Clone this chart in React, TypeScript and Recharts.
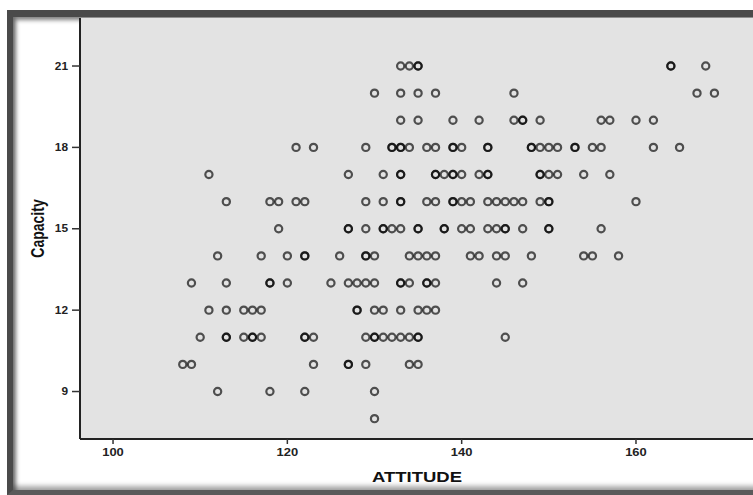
import { ScatterChart, Scatter, XAxis, YAxis, CartesianGrid } from 'recharts';

// ATTITUDE scores per Capacity level (a value listed twice = overlapping cases)
const cap21 = [133, 134, 135, 135, 164, 164, 168];
const cap20 = [130, 133, 135, 137, 146, 167, 169];
const cap19 = [133, 135, 139, 142, 146, 147, 147, 149, 156, 157, 160, 162];
const cap18 = [
  121, 123, 129, 132, 132, 133, 133, 134, 136, 137, 139, 139, 140, 143, 143,
  148, 148, 149, 150, 151, 153, 153, 155, 156, 162, 165,
];
const cap17 = [
  111, 127, 131, 133, 133, 137, 137, 138, 139, 139, 140, 142, 143, 143, 149,
  149, 150, 151, 154, 157,
];
const cap16 = [
  113, 118, 119, 121, 122, 129, 131, 133, 133, 136, 137, 139, 139, 140, 141,
  143, 144, 145, 146, 147, 149, 150, 150, 160,
];
const cap15 = [
  119, 127, 127, 129, 131, 131, 132, 133, 135, 135, 138, 138, 140, 141, 143,
  144, 145, 145, 147, 150, 150, 156,
];
const cap14 = [
  112, 117, 120, 122, 122, 126, 129, 129, 130, 134, 135, 136, 137, 141, 142,
  144, 145, 148, 154, 155, 158,
];
const cap13 = [109, 113, 118, 118, 120, 125, 127, 128, 129, 130, 133, 133, 134, 136, 136, 137, 144, 147];
const cap12 = [111, 113, 115, 116, 117, 128, 128, 130, 131, 133, 135, 136, 137];
const cap11 = [110, 113, 113, 115, 116, 116, 117, 122, 122, 123, 129, 130, 130, 131, 132, 133, 134, 135, 135, 145];
const cap10 = [108, 109, 123, 127, 127, 129, 134, 135];
const cap9 = [112, 118, 122, 130];
const cap8 = [130];

const rows: [number, number[]][] = [
  [21, cap21],
  [20, cap20],
  [19, cap19],
  [18, cap18],
  [17, cap17],
  [16, cap16],
  [15, cap15],
  [14, cap14],
  [13, cap13],
  [12, cap12],
  [11, cap11],
  [10, cap10],
  [9, cap9],
  [8, cap8],
];

const attitudeTicks = [100, 120, 140, 160];
const capacityTicks = [9, 12, 15, 18, 21];

const points = rows.flatMap(([capacity, xs]) =>
  xs.map((attitude) => ({ attitude, capacity }))
);

const FONT = 'Arial, "Liberation Sans", sans-serif';

const Ring = (props: any) => {
  const { cx, cy } = props;
  if (cx == null || cy == null) return null;
  return (
    <circle
      cx={cx}
      cy={cy}
      r={3.6}
      fill="none"
      stroke="#000"
      strokeOpacity={0.66}
      strokeWidth={2.2}
    />
  );
};

const XTick = (props: any) => {
  const { x, y, payload } = props;
  const s = String(payload.value);
  return (
    <text
      x={x}
      y={y}
      dy={10}
      textAnchor="middle"
      fontFamily={FONT}
      fontSize={10}
      fontWeight="bold"
      fill="#222"
      textLength={s.length * 7.2}
      lengthAdjust="spacingAndGlyphs"
    >
      {s}
    </text>
  );
};

const YTick = (props: any) => {
  const { x, y, payload } = props;
  const s = String(payload.value);
  return (
    <text
      x={x}
      y={y}
      dy={3.5}
      textAnchor="end"
      fontFamily={FONT}
      fontSize={10}
      fontWeight="bold"
      fill="#222"
      textLength={s.length * 6.6}
      lengthAdjust="spacingAndGlyphs"
    >
      {s}
    </text>
  );
};

const XTitle = (props: any) => {
  const vb = props.viewBox || { x: 80, y: 439, width: 674 };
  return (
    <text
      x={vb.x + vb.width / 2}
      y={vb.y + 43}
      textAnchor="middle"
      fontFamily={FONT}
      fontSize={15}
      fontWeight="bold"
      fill="#111"
      textLength={90}
      lengthAdjust="spacingAndGlyphs"
    >
      ATTITUDE
    </text>
  );
};

const YTitle = (props: any) => {
  const vb = props.viewBox || { x: 0, y: 18, height: 421 };
  const cx = vb.x + 37;
  const cy = vb.y + vb.height / 2;
  return (
    <text
      transform={`translate(${cx},${cy}) rotate(-90) scale(1,1.3)`}
      textAnchor="middle"
      dy={5}
      fontFamily={FONT}
      fontSize={14}
      fontWeight="bold"
      fill="#111"
    >
      Capacity
    </text>
  );
};

export default function App() {
  return (
    <div
      style={{
        position: 'absolute',
        left: 0,
        top: 0,
        width: 753,
        height: 495,
        overflow: 'hidden',
        background: '#fff',
      }}
    >
      <div
        style={{
          position: 'absolute',
          left: 7,
          top: 10,
          width: 820,
          height: 485,
          boxSizing: 'border-box',
          borderTop: '7px solid #4a4a4a',
          borderLeft: '6px solid #4a4a4a',
          borderBottom: '5px solid #5a5a5a',
          boxShadow:
            'inset 3px 3px 4px rgba(0,0,0,0.5), inset 0 -4px 5px rgba(0,0,0,0.35)',
        }}
      />
      <div style={{ position: 'absolute', left: 0, top: 0 }}>
        <ScatterChart
          width={760}
          height={495}
          margin={{ top: 18, right: 6, bottom: 0, left: 0 }}
        >
          <CartesianGrid
            fill="#e3e3e3"
            horizontal={false}
            vertical={false}
          />
          <XAxis
            type="number"
            dataKey="attitude"
            domain={[96.21, 173.54]}
            allowDataOverflow
            ticks={attitudeTicks}
            interval={0}
            height={56}
            tickSize={5}
            tickMargin={2}
            tickLine={{ stroke: '#333', strokeWidth: 1.5 }}
            axisLine={{ stroke: '#222', strokeWidth: 2 }}
            tick={(p: any) => <XTick {...p} />}
            label={<XTitle />}
          />
          <YAxis
            type="number"
            dataKey="capacity"
            domain={[7.25, 22.77]}
            allowDataOverflow
            ticks={capacityTicks}
            interval={0}
            width={80}
            tickSize={8}
            tickMargin={4}
            tickLine={{ stroke: '#333', strokeWidth: 1.5 }}
            axisLine={{ stroke: '#222', strokeWidth: 2 }}
            tick={(p: any) => <YTick {...p} />}
            label={<YTitle />}
          />
          <Scatter
            data={points}
            isAnimationActive={false}
            shape={(p: any) => <Ring {...p} />}
          />
        </ScatterChart>
      </div>
    </div>
  );
}
